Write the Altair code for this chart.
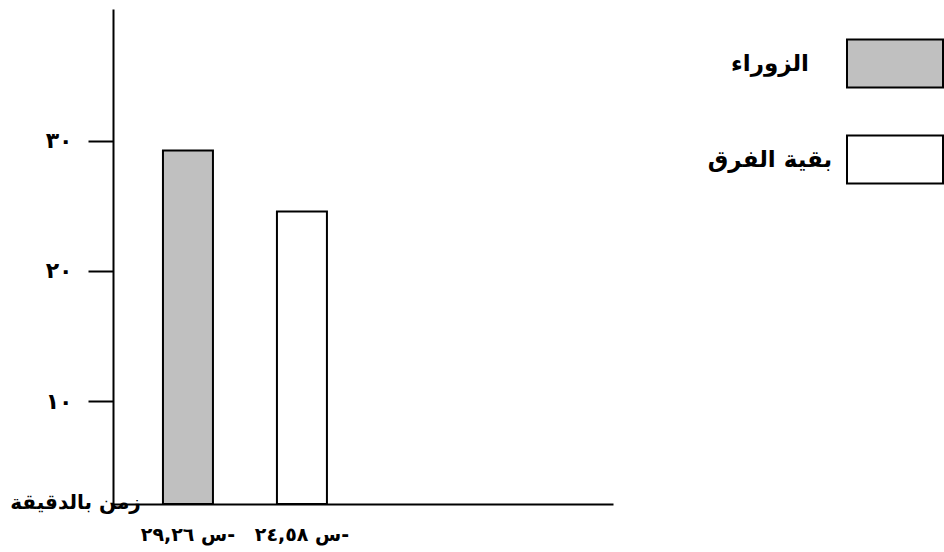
import altair as alt
import pandas as pd

# ---- data ----
TEAMS = ["الزوراء", "بقية الفرق"]
MEANS = [29.26, 24.58]
# mean labels, shown left-to-right exactly as in the reference ("٢٩,٢٦  س-")
X_LABELS = ["\u202d٢٩,٢٦  س-\u202c", "\u202d٢٤,٥٨  س-\u202c"]
X_DOMAIN = X_LABELS + [" "]          # one empty slot to the right, as in the reference
COLORS = ["#c0c0c0", "#ffffff"]
Y_TICKS = [10, 20, 30]
Y_TICK_LABELS = ["١٠", "٢٠", "٣٠"]
Y_TITLE = "زمن بالدقيقة"
Y_DOMAIN = [2.08, 40.15]

df = pd.DataFrame({"team": TEAMS, "mean": MEANS, "label": X_LABELS})

FONT = "DejaVu Sans"

label_expr = " : ".join(
    f"datum.value == {v} ? '{t}'" for v, t in zip(Y_TICKS[:-1], Y_TICK_LABELS[:-1])
) + f" : '{Y_TICK_LABELS[-1]}'"

chart = alt.Chart(df).mark_bar(stroke="black", strokeWidth=2).encode(
    x=alt.X(
        "label:N",
        scale=alt.Scale(domain=X_DOMAIN, paddingInner=0.5614, paddingOuter=0.974, align=0.225),
        axis=alt.Axis(
            title=None, ticks=False, labelAngle=0, labelFont=FONT, labelFontSize=19,
            labelFontWeight="bold", labelColor="black", labelPadding=21,
            domainColor="black", domainWidth=2,
        ),
    ),
    y=alt.Y(
        "mean:Q",
        scale=alt.Scale(domain=Y_DOMAIN, zero=False, nice=False),
        axis=alt.Axis(
            values=Y_TICKS, labelExpr=label_expr, grid=False, tickSize=25, tickWidth=2,
            tickColor="black", domainColor="black", domainWidth=2, labelFont=FONT,
            labelFontSize=22, labelFontWeight="bold", labelColor="black", labelPadding=16,
            title=Y_TITLE, titleAngle=0, titleX=-38, titleY=499, titleAlign="center",
            titleBaseline="alphabetic", titleFont=FONT, titleFontSize=20,
            titleFontWeight="bold", titleColor="black",
        ),
    ),
    y2=alt.Y2Datum(Y_DOMAIN[0]),
    color=alt.Color(
        "team:N",
        scale=alt.Scale(domain=TEAMS, range=COLORS),
        legend=alt.Legend(
            title=None, orient="none", legendX=734, legendY=6.5, direction="vertical",
            symbolType="M-1.0213,-0.5106H1.0213V0.5106H-1.0213Z", symbolSize=8836,
            symbolStrokeColor="black", symbolStrokeWidth=2, symbolOpacity=1,
            labelAlign="center", labelOffset={"expr": "-173"}, labelFont=FONT,
            labelFontSize=23, labelFontWeight="bold", labelColor="black", labelLimit=300,
            rowPadding=20, padding=0,
        ),
    ),
).properties(
    width=500,
    height=495,
    autosize=alt.AutoSizeParams(type="none"),
    padding={"left": 113, "top": 9, "right": 331, "bottom": 48},
    background="white",
).configure_view(stroke="transparent")

chart.save("out.html", embed_options={"renderer": "svg", "actions": False})
